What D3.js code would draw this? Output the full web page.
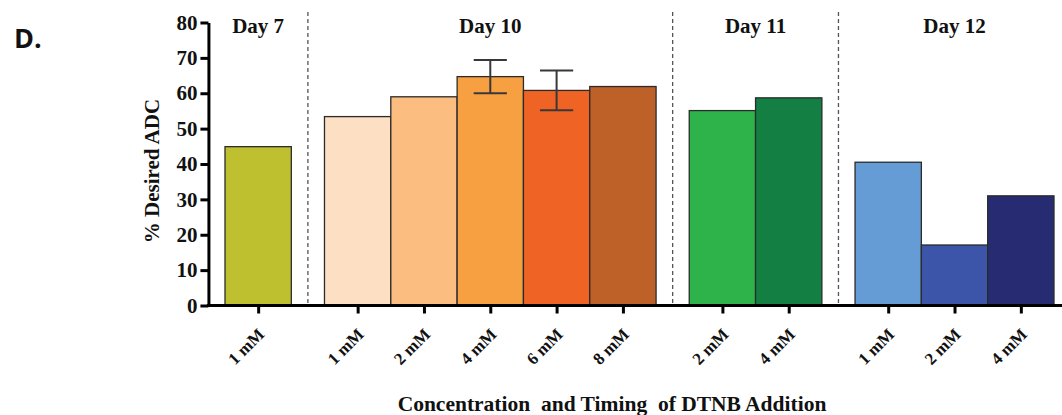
<!DOCTYPE html>
<html>
<head>
<meta charset="utf-8">
<script src="https://cdn.jsdelivr.net/npm/d3@7"></script>
<style>
  body { margin: 0; background: #fff; }
  svg { display: block; }
</style>
</head>
<body>
<script>
// days of DTNB addition, one group of bars per day
const days = ["Day 7", "Day 10", "Day 11", "Day 12"];
const barDay = [0, 1, 1, 1, 1, 1, 2, 2, 3, 3, 3];
const concLabels = ["1 mM", "1 mM", "2 mM", "4 mM", "6 mM", "8 mM", "2 mM", "4 mM", "1 mM", "2 mM", "4 mM"];
const desiredADC = [44.9, 53.4, 59.0, 64.7, 60.8, 61.9, 55.1, 58.7, 40.5, 17.1, 31.0];
const errorSD = [null, null, null, 4.7, 5.6, null, null, null, null, null, null];
const barColors = ["#bfc030", "#fddfc3", "#fbbd80", "#f6a042", "#ef6324", "#bd6129",
                   "#2eb24a", "#137f42", "#669cd5", "#3d55a9", "#262b72"];
const yTicks = [0, 10, 20, 30, 40, 50, 60, 70, 80];

const W = 1062, H = 415;
const svg = d3.select("body").append("svg")
    .attr("width", W)
    .attr("height", H);

// slot position of each bar: half a slot gap between day groups
const pos = desiredADC.map((d, i) => i + barDay[i] * 0.5);
const nSlots = pos[pos.length - 1] + 1;

const x = d3.scaleLinear()
    .domain([0, nSlots])
    .range([225, 1054]);

const y = d3.scaleLinear()
    .domain([0, 80])
    .range([305.5, 22.5]);

const serif = "'Liberation Serif', 'Times New Roman', serif";

// dashed separators between days
const seps = days.slice(1).map((d, g) => {
  const first = barDay.indexOf(g + 1);
  return pos[first] - 0.25;
});
svg.selectAll("line.sep")
    .data(seps)
  .enter().append("line")
    .attr("class", "sep")
    .attr("x1", d => x(d)).attr("x2", d => x(d))
    .attr("y1", 12).attr("y2", y(0))
    .attr("stroke", "#555")
    .attr("stroke-width", 1.3)
    .attr("stroke-dasharray", "4,3");

// bars
const bw = x(1) - x(0);
svg.selectAll("rect.bar")
    .data(desiredADC)
  .enter().append("rect")
    .attr("class", "bar")
    .attr("x", (d, i) => x(pos[i]))
    .attr("y", d => y(d))
    .attr("width", bw)
    .attr("height", d => y(0) - y(d))
    .attr("fill", (d, i) => barColors[i])
    .attr("stroke", "#2b2b2b")
    .attr("stroke-width", 1.3);

// error bars
const errData = desiredADC.map((d, i) => ({v: d, e: errorSD[i], p: pos[i]})).filter(d => d.e != null);
const eg = svg.selectAll("g.err").data(errData).enter().append("g")
    .attr("stroke", "#383838").attr("stroke-width", 2);
eg.append("line")
    .attr("x1", d => x(d.p + 0.5)).attr("x2", d => x(d.p + 0.5))
    .attr("y1", d => y(d.v - d.e)).attr("y2", d => y(d.v + d.e));
eg.append("line")
    .attr("x1", d => x(d.p + 0.25)).attr("x2", d => x(d.p + 0.75))
    .attr("y1", d => y(d.v + d.e)).attr("y2", d => y(d.v + d.e));
eg.append("line")
    .attr("x1", d => x(d.p + 0.25)).attr("x2", d => x(d.p + 0.75))
    .attr("y1", d => y(d.v - d.e)).attr("y2", d => y(d.v - d.e));

// y axis
const yAxis = svg.append("g")
    .attr("transform", `translate(${x(-0.25)},0)`)
    .call(d3.axisLeft(y).tickValues(yTicks).tickSize(8).tickSizeOuter(0).tickPadding(3));
yAxis.select(".domain").attr("stroke", "#000").attr("stroke-width", 3);
yAxis.selectAll(".tick line").attr("stroke", "#000").attr("stroke-width", 3);
yAxis.selectAll(".tick text")
    .attr("fill", "#111")
    .style("font", `bold 21px ${serif}`);

// x axis
const xAxis = svg.append("g")
    .attr("transform", `translate(0,${y(0)})`)
    .call(d3.axisBottom(x)
      .tickValues(pos.map(p => p + 0.5))
      .tickFormat((d, i) => concLabels[i])
      .tickSize(8).tickSizeOuter(0));
xAxis.select(".domain")
    .attr("d", `M${x(-0.25) - 1.5},0H${W}`)
    .attr("stroke", "#000").attr("stroke-width", 3);
xAxis.selectAll(".tick line").attr("stroke", "#000").attr("stroke-width", 3);
xAxis.selectAll(".tick text")
    .attr("fill", "#111")
    .style("font", `bold 17px ${serif}`)
    .attr("text-anchor", "end")
    .attr("dy", null)
    .attr("transform", "translate(-1,22) rotate(-45)");

// day labels
svg.selectAll("text.day")
    .data(days)
  .enter().append("text")
    .attr("class", "day")
    .attr("x", (d, g) => {
      const idx = pos.filter((p, i) => barDay[i] === g);
      return x((idx[0] + idx[idx.length - 1] + 1) / 2);
    })
    .attr("y", 33)
    .attr("text-anchor", "middle")
    .style("font", `bold 21px ${serif}`)
    .attr("fill", "#111")
    .text(d => d);

// axis titles
svg.append("text")
    .attr("transform", `translate(159,${y(38)}) rotate(-90)`)
    .attr("text-anchor", "middle")
    .style("font", `bold 21px ${serif}`)
    .attr("fill", "#111")
    .text("% Desired ADC");

svg.append("text")
    .attr("x", 612)
    .attr("y", 411)
    .attr("text-anchor", "middle")
    .style("font", `bold 21.5px ${serif}`)
    .style("white-space", "pre")
    .attr("fill", "#111")
    .text("Concentration  and Timing  of DTNB Addition");

// panel letter
svg.append("text")
    .attr("x", 14)
    .attr("y", 48)
    .style("font", "bold 27px 'Open Sans', sans-serif")
    .attr("fill", "#111")
    .text("D.");
</script>
</body>
</html>
